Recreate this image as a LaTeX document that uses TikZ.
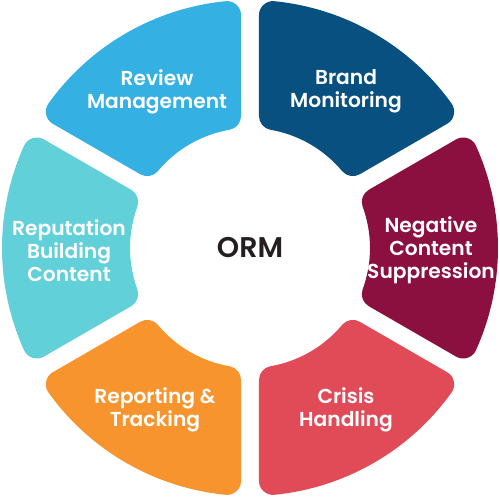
\documentclass[tikz,border=0pt]{standalone}
\usepackage{fontspec}
\setmainfont{Poppins SemiBold}
\definecolor{cbrand}{HTML}{07507F}
\definecolor{creview}{HTML}{35B0E2}
\definecolor{creput}{HTML}{62D0D8}
\definecolor{creport}{HTML}{F7942D}
\definecolor{ccrisis}{HTML}{E14B58}
\definecolor{cneg}{HTML}{8B0F3F}
\definecolor{corm}{HTML}{231F20}
\newcommand\ormseg[3]{%
  \path[segshape, fill=#3, draw=#3]
    ({#1+9.88}:134) -- ({#1+5.64}:234)
    arc[start angle={#1+5.64}, end angle={#2-5.64}, radius=234]
    -- ({#2-9.88}:134)
    arc[start angle={#2-9.88}, end angle={#1+9.88}, radius=134] -- cycle;}
\begin{document}
\begin{tikzpicture}[x=0.02cm, y=0.02cm,
  segshape/.style={line width=0.56cm, line join=round},
  segtext/.style={text=white, align=center, font=\fontsize{11.5}{13.1}\selectfont},
  centertext/.style={text=corm, font=\fontsize{16.2}{19}\selectfont}]
\useasboundingbox (-250,-249) rectangle (250,248);
\ormseg{30}{90}{cbrand}
\ormseg{90}{150}{creview}
\ormseg{150}{210}{creput}
\ormseg{210}{270}{creport}
\ormseg{270}{330}{ccrisis}
\ormseg{-30}{30}{cneg}
\node[segtext] (brand) at (96,156.5) {Brand\\Monitoring};
\node[segtext] (review) at (-93,156.5) {Review\\Management};
\node[segtext] (reput) at (-181,-2.5) {Reputation\\Building\\Content};
\node[segtext] (report) at (-95,-161.5) {Reporting \&\\Tracking};
\node[segtext] (crisis) at (96,-161.5) {Crisis\\Handling};
\node[segtext] (neg) at (181,-2.5) {Negative\\Content\\Suppression};
\node[centertext] (orm) at (0,0) {ORM};
\end{tikzpicture}
\end{document}
